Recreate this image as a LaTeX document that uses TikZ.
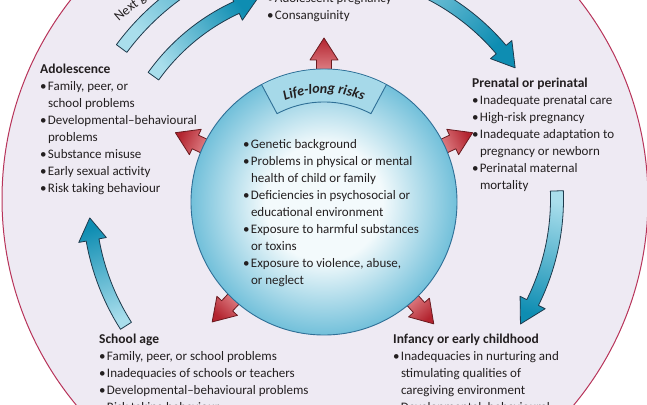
\documentclass[tikz,border=0pt]{standalone}
\usepackage{fontspec}
\setmainfont{Carlito}
\usetikzlibrary{decorations.text}
\definecolor{lav}{HTML}{EEEAF3}
\definecolor{rim}{HTML}{B8345A}
\definecolor{riskin}{HTML}{F3FAFC}
\definecolor{riskout}{HTML}{72C0DA}
\definecolor{riskline}{HTML}{2F6F96}
\definecolor{tabfill}{HTML}{A6D9E9}
\definecolor{bdark}{HTML}{0E8DB2}
\definecolor{blight}{HTML}{A9DEEC}
\definecolor{bline}{HTML}{1E3A4C}
\definecolor{rdark}{HTML}{B3242F}
\definecolor{rlight}{HTML}{F0A5A8}
\definecolor{rline}{HTML}{6A1A1F}
\definecolor{txt}{HTML}{231F20}
\pgfdeclareradialshading{lifeshade}{\pgfpoint{0bp}{0bp}}{color(0bp)=(riskin); color(11bp)=(riskin); color(25bp)=(riskout); color(50bp)=(riskout)}
\newcommand\bu{\makebox[7.8pt][l]{•}}
\newcommand\ind{\hspace*{7.8pt}}
\newcommand\st{\rule{0pt}{11pt}}
\newcommand\hd[1]{{\fontsize{13.5}{17}\selectfont\bfseries #1}}
\newcommand\bluecurve[5]{%
  \path[bluearrow,#5] ({#2}:{#1+6.5}) arc[start angle={#2}, end angle={#3}, radius={#1+6.5}]
    -- ({#3}:{#1+14}) -- ({#4}:{#1}) -- ({#3}:{#1-14}) -- ({#3}:{#1-6.5})
    arc[start angle={#3}, end angle={#2}, radius={#1-6.5}] -- cycle;}
\newcommand\redradial[1]{%
  \begin{scope}[shift={(324,202)}, rotate=#1]
    \path[redarrow, shading angle={#1-90}] (118,-7.5) -- (142,-7.5) -- (142,-14) -- (164,0) -- (142,14) -- (142,7.5) -- (118,7.5) -- cycle;
  \end{scope}}
\tikzset{
  txtblock/.style={anchor=north west, inner sep=0pt, align=left, text=txt, font=\fontsize{13}{17}\selectfont},
  bluearrow/.style={draw=bline, line width=0.8pt, line join=round, top color=bdark, bottom color=blight},
  redarrow/.style={draw=rline, line width=0.8pt, line join=round, top color=rdark, bottom color=rlight},
}
\begin{document}
\begin{tikzpicture}[x=1pt,y=1pt]
\useasboundingbox (0,0) rectangle (647,404);
\clip (0,0) rectangle (647,404);
\fill[white] (0,0) rectangle (647,404);
\node (world) [circle, minimum size=646pt, inner sep=0pt, fill=lav, draw=rim, line width=1pt] at (325,205) {};

\begin{scope}[shift={(325,205)}]
  \bluecurve{232}{2}{-26.5}{-32.6}{shading angle=165.6}
  \bluecurve{236}{212.5}{190}{184.6}{shading angle=18.4}
  \bluecurve{231}{85}{40.3}{34.6}{shading angle=-133}
  \bluecurve{211}{144.4}{114.8}{108.8}{shading angle=-54}
  \bluecurve{253}{143.5}{105}{99}{shading angle=-45}
\end{scope}
\coordinate (ngstart) at (119,382);
\path[decorate, decoration={text along path, text align=left,
    text={|\fontsize{13.5}{15}\selectfont\color{txt}|Next generation}}]
    (ngstart) arc[start angle=132, end angle=100, radius=270];

\redradial{90}
\redradial{155}
\redradial{25}
\redradial{227}
\redradial{312}

\node (risks) [circle, minimum size=266pt, inner sep=0pt, shading=lifeshade, draw=riskline, line width=0.9pt] at (324,202) {};
\begin{scope}[shift={(risks.center)}]
  \fill[tabfill] (62:132.5) arc[start angle=62, end angle=118, radius=132.5] -- (118:100) arc[start angle=118, end angle=62, radius=100] -- cycle;
  \draw[riskline, line width=0.9pt, line join=round] (62:133) -- (62:100) arc[start angle=62, end angle=118, radius=100] -- (118:133);
  \path[decorate, decoration={text along path, text align=center,
      text={|\fontsize{14}{15}\selectfont\bfseries\itshape\color{txt}|Life-long risks}}]
      (125:109) arc[start angle=125, end angle=55, radius=109];
\end{scope}

\node (pre) [txtblock] at (267,412.5) {\st\bu Adolescent pregnancy\\\bu Consanguinity};
\node (adol) [txtblock] at (40,342) {\st\hd{Adolescence}\\
\bu Family, peer, or\\
\ind school problems\\
\bu Developmental--behavioural\\
\ind problems\\
\bu Substance misuse\\
\bu Early sexual activity\\
\bu Risk taking behaviour};
\node (peri) [txtblock] at (472,328) {\st\hd{Prenatal or perinatal}\\
\bu Inadequate prenatal care\\
\bu High-risk pregnancy\\
\bu Inadequate adaptation to\\
\ind pregnancy or newborn\\
\bu Perinatal maternal\\
\ind mortality};
\node (list) [txtblock] at (243,267) {\st\bu Genetic background\\
\bu Problems in physical or mental\\
\ind health of child or family\\
\bu Deficiencies in psychosocial or\\
\ind educational environment\\
\bu Exposure to harmful substances\\
\ind or toxins\\
\bu Exposure to violence, abuse,\\
\ind or neglect};
\node (school) [txtblock] at (99,72) {\st\hd{School age}\\
\bu Family, peer, or school problems\\
\bu Inadequacies of schools or teachers\\
\bu Developmental--behavioural problems\\
\bu Risk taking behaviour};
\node (infant) [txtblock] at (393,72) {\st\hd{Infancy or early childhood}\\
\bu Inadequacies in nurturing and\\
\ind stimulating qualities of\\
\ind caregiving environment\\
\bu Developmental--behavioural};
\end{tikzpicture}
\end{document}
